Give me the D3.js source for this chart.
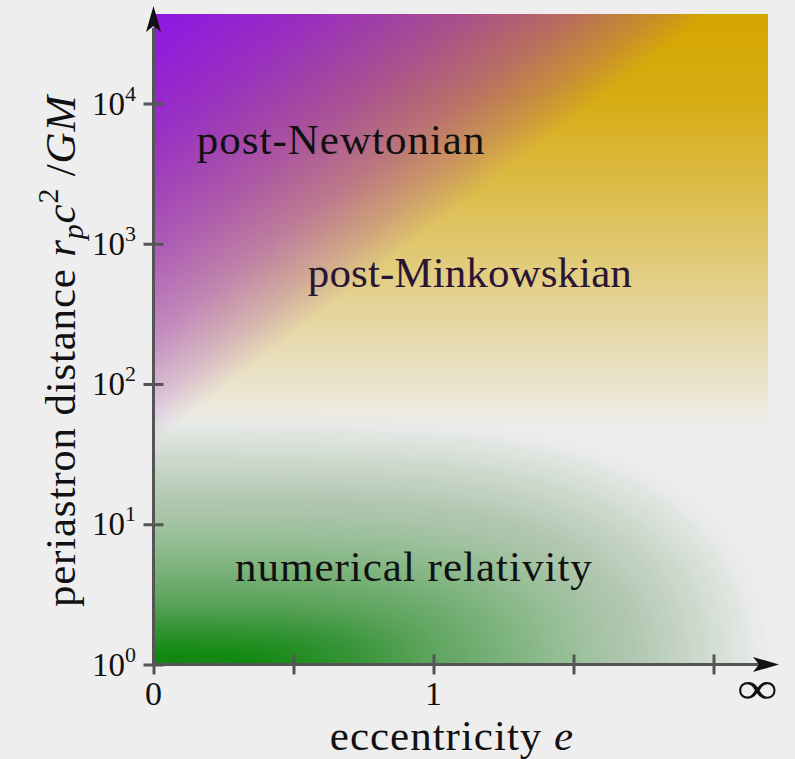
<!DOCTYPE html>
<html>
<head>
<meta charset="utf-8">
<script src="https://cdn.jsdelivr.net/npm/d3@7"></script>
<style>
  html, body { margin: 0; padding: 0; background: #eeeeee; }
  svg { display: block; }
  text { font-family: "Liberation Serif", "Times New Roman", serif; fill: #111; }
</style>
</head>
<body>
<svg id="chart" width="795" height="759"></svg>
<script>
// Regimes of the relativistic two-body problem in the (eccentricity, periastron distance) plane
const regimeNames = ["post-Newtonian", "post-Minkowskian", "numerical relativity"];
const regimeE = [0.67, 1.13, 0.93];          // eccentricity at the centre of each label
const regimeR = [4400, 490, 3.97];           // periastron distance at each label's baseline
const regimeColors = ["#111111", "#2a1533", "#111111"];
const regimeSpacing = [1, 0.1, 1];

const yTickValues = [1, 10, 100, 1000, 10000];
const yTickExponents = ["0", "1", "2", "3", "4"];
const xTickValues = [0, 0.5, 1, 1.5, 2];
const xTickLabels = ["0", "", "1", "", ""];
const eInfinity = 2.157;                      // compactified position of e = ∞

// Reach of numerical relativity: up to r ~ 60 GM/c^2, fading out towards e = ∞
const nrMaxLogR = 1.78;
const nrMaxE = 2.196;
// Opacity of the numerical-relativity shading against its normalised distance from the origin
const nrLevel = [0, 0.256, 0.56, 0.856, 1];
const nrOpacity = [1, 0.65, 0.36, 0.13, 0];

const W = 795, H = 759;
const svg = d3.select("#chart");

// Scales: eccentricity on a compactified linear axis, distance on a log axis
const x = d3.scaleLinear().domain([0, 2.2]).range([153.5, 769.5]);
const y = d3.scaleLog().domain([1, 1e4]).range([664.5, 103.5]);
const plotTop = 14, plotRight = 768;
const x0 = x(0), y0 = y(1);

svg.append("rect").attr("width", W).attr("height", H).attr("fill", "#eeeeee");

const defs = svg.append("defs");

defs.append("clipPath").attr("id", "plot-clip")
  .append("rect")
  .attr("x", x0).attr("y", plotTop)
  .attr("width", plotRight - x0).attr("height", y0 - plotTop);

function addStops(grad, color, stops) {
  stops.forEach(([o, a]) =>
    grad.append("stop").attr("offset", o).attr("stop-color", color).attr("stop-opacity", a));
}

// post-Minkowskian: gold, fading downward
const gold = defs.append("linearGradient").attr("id", "pm-grad")
  .attr("gradientUnits", "userSpaceOnUse")
  .attr("x1", 0).attr("y1", plotTop).attr("x2", 0).attr("y2", y(Math.pow(10, 1.68)));
addStops(gold, "#d4a600", [[0, 1], [0.2, 0.92], [0.435, 0.68], [0.76, 0.3], [0.93, 0.1], [1, 0]]);

// post-Newtonian: purple, fading along the diagonal from the top-left corner
const nx = 406 / 665, ny = 527 / 665, L = 340;
const purple = defs.append("linearGradient").attr("id", "pn-grad")
  .attr("gradientUnits", "userSpaceOnUse")
  .attr("x1", x0).attr("y1", plotTop)
  .attr("x2", x0 + nx * L).attr("y2", plotTop + ny * L);
addStops(purple, "#8c16e6", [[0, 1], [0.3, 0.82], [0.56, 0.6], [0.75, 0.4], [0.9, 0.18], [1, 0]]);

const plot = svg.append("g").attr("clip-path", "url(#plot-clip)");
["pm-grad", "pn-grad"].forEach(id =>
  plot.append("rect")
    .attr("x", x0).attr("y", plotTop)
    .attr("width", plotRight - x0).attr("height", y0 - plotTop)
    .attr("fill", `url(#${id})`));

// numerical relativity: nested rounded contours around the origin, lightly blurred
defs.append("filter").attr("id", "nr-soft")
  .attr("filterUnits", "userSpaceOnUse")
  .attr("x", 0).attr("y", 0).attr("width", W).attr("height", H)
  .append("feGaussianBlur").attr("stdDeviation", "6 3");

const opacityAt = d3.scaleLinear().domain(nrLevel).range(nrOpacity).clamp(true);
const P = 1.7, N = 2.3, LAYERS = 64;
const toPx = (u, v) => [x(u * nrMaxE), y(Math.pow(10, v * nrMaxLogR))];
const contour = r => {
  const pts = [[x0 - 12, y0 + 12], [toPx(Math.pow(r, 1 / P), 0)[0], y0 + 12]];
  d3.range(0, 61).forEach(i => {
    const th = (i / 60) * Math.PI / 2;
    const c = Math.max(Math.cos(th), 0), s = Math.max(Math.sin(th), 0);
    const phi = r * Math.pow(c, 2 / N);
    const u = Math.pow(phi, 1 / P);
    const v = r * Math.pow(s, 2 / N);
    pts.push(toPx(u, v));
  });
  pts.push([x0 - 12, toPx(0, r)[1]]);
  return d3.line()(pts) + "Z";
};
const layers = [];
let prev = 0;
d3.range(LAYERS).forEach(k => {
  const r = 1 - k / LAYERS;
  const target = Math.min(opacityAt(r - 0.5 / LAYERS), 0.999);
  const a = 1 - (1 - target) / (1 - prev);
  prev = target;
  layers.push({ r, a });
});
plot.append("g").attr("filter", "url(#nr-soft)")
  .selectAll("path")
  .data(layers)
  .join("path")
  .attr("d", d => contour(d.r))
  .attr("fill", "#0a840a")
  .attr("fill-opacity", d => d.a);

// Regime labels
svg.append("g").selectAll("text")
  .data(regimeNames)
  .join("text")
  .attr("x", (d, i) => x(regimeE[i]))
  .attr("y", (d, i) => y(regimeR[i]))
  .attr("text-anchor", "middle")
  .attr("font-size", 43)
  .attr("letter-spacing", (d, i) => regimeSpacing[i])
  .style("fill", (d, i) => regimeColors[i])
  .text(d => d);

// Axes
const axisColor = "#555555";
const yAxis = svg.append("g")
  .attr("transform", `translate(${x0},0)`)
  .call(d3.axisLeft(y).tickValues(yTickValues).tickFormat("").tickSizeOuter(0).tickSizeInner(10));
yAxis.select(".domain").remove();
yAxis.selectAll(".tick line").attr("x1", -10).attr("x2", 10)
  .attr("stroke", axisColor).attr("stroke-width", 3);

const xAxis = svg.append("g")
  .attr("transform", `translate(0,${y0})`)
  .call(d3.axisBottom(x).tickValues(xTickValues).tickFormat("").tickSizeOuter(0).tickSizeInner(10));
xAxis.select(".domain").remove();
xAxis.selectAll(".tick line").attr("y1", -10).attr("y2", 10)
  .attr("stroke", axisColor).attr("stroke-width", 3);

svg.append("path")
  .attr("d", `M${x0},28 V${y0} H770`)
  .attr("fill", "none").attr("stroke", axisColor).attr("stroke-width", 3);

// Arrowheads
svg.append("path")
  .attr("d", `M${x0},6 L${x0 - 7.5},32 L${x0},26 L${x0 + 7.5},32 Z`)
  .attr("fill", "#111");
svg.append("path")
  .attr("d", `M779,${y0} L753,${y0 - 7.5} L759,${y0} L753,${y0 + 7.5} Z`)
  .attr("fill", "#111");

// y tick labels 10^n
const yLab = svg.append("g").selectAll("text")
  .data(yTickValues)
  .join("text")
  .attr("x", 136)
  .attr("y", d => y(d) + 11)
  .attr("text-anchor", "end");
yLab.append("tspan").attr("font-size", 33).text("10");
yLab.append("tspan").attr("font-size", 22).attr("dy", -14).text((d, i) => yTickExponents[i]);

// x tick labels
svg.append("g").selectAll("text")
  .data(xTickValues)
  .join("text")
  .attr("x", d => x(d))
  .attr("y", 705)
  .attr("text-anchor", "middle")
  .attr("font-size", 34)
  .text((d, i) => xTickLabels[i]);
svg.append("text")
  .attr("transform", `translate(${x(eInfinity)},703) scale(1.3,1)`)
  .attr("text-anchor", "middle")
  .attr("font-size", 44)
  .text("∞");

// Axis titles
const xt = svg.append("text")
  .attr("x", 452).attr("y", 750)
  .attr("text-anchor", "middle")
  .attr("font-size", 43)
  .attr("letter-spacing", 1);
xt.append("tspan").text("eccentricity ");
xt.append("tspan").attr("font-style", "italic").text("e");

const yt = svg.append("text")
  .attr("transform", "translate(75,351) rotate(-90)")
  .attr("text-anchor", "middle")
  .attr("font-size", 43)
  .attr("letter-spacing", 0.8);
yt.append("tspan").text("periastron distance ");
yt.append("tspan").attr("font-style", "italic").text("r");
yt.append("tspan").attr("font-style", "italic").attr("font-size", 30).attr("dy", 8).text("p");
yt.append("tspan").attr("font-style", "italic").attr("dy", -8).text("c");
yt.append("tspan").attr("font-size", 30).attr("dy", -17).text("2");
yt.append("tspan").attr("dy", 17).text(" /");
yt.append("tspan").attr("font-style", "italic").text("GM");
</script>
</body>
</html>
